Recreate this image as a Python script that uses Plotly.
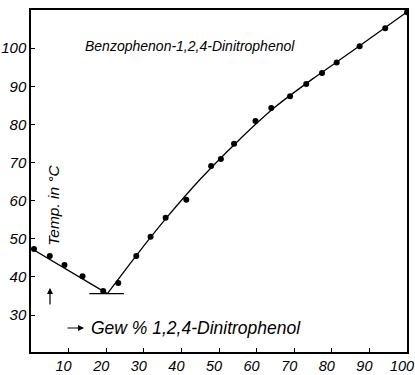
import plotly.graph_objects as go

# measured points (weight % 1,2,4-dinitrophenol, temperature °C)
x_pts = [0.8, 5.0, 8.9, 13.7, 19.2, 23.2, 28.0, 31.8, 35.8, 41.3, 47.9, 50.5, 54.0,
         59.7, 63.9, 68.9, 73.2, 77.4, 81.3, 87.4, 94.2, 100.0]
y_pts = [47.3, 45.5, 43.1, 40.2, 36.3, 38.4, 45.5, 50.5, 55.5, 60.2, 69.1, 70.9, 74.9,
         80.9, 84.3, 87.4, 90.6, 93.5, 96.2, 100.5, 105.2, 109.4]

# liquidus curve (left branch, eutectic, right branch)
x_left = [0.0, 20.3]
y_left = [47.5, 35.6]
x_right = [20.3, 28.0, 35.8, 45.0, 55.0, 65.0, 75.0, 85.0, 100.0]
y_right = [35.6, 45.6, 55.2, 65.6, 75.6, 84.6, 92.0, 98.9, 109.5]
# eutectic horizontal
x_eut = [15.5, 24.7]
y_eut = [35.6, 35.6]

x_ticks = [10, 20, 30, 40, 50, 60, 70, 80, 90, 100]
y_ticks = [30, 40, 50, 60, 70, 80, 90, 100]

FONT = "Liberation Sans"
fig = go.Figure()
line = dict(color="black", width=1.3)
fig.add_trace(go.Scatter(x=x_left, y=y_left, mode="lines", line=line, hoverinfo="skip"))
fig.add_trace(go.Scatter(x=x_right, y=y_right, mode="lines",
                         line=dict(color="black", width=1.3, shape="spline", smoothing=0.6),
                         hoverinfo="skip"))
fig.add_trace(go.Scatter(x=x_eut, y=y_eut, mode="lines", line=line, hoverinfo="skip"))
fig.add_trace(go.Scatter(x=x_pts, y=y_pts, mode="markers",
                         marker=dict(color="black", size=6), hoverinfo="skip"))

fig.add_annotation(x=0.423, y=0.925, xref="paper", yref="paper", showarrow=False,
                   text="Benzophenon-1,2,4-Dinitrophenol",
                   font=dict(family=FONT, size=14, color="black", style="italic"))
fig.add_annotation(x=6.1, y=58.9, showarrow=False, textangle=-90,
                   text="Temp. in °C",
                   font=dict(family=FONT, size=15.5, color="black", style="italic"))
# small arrows
fig.add_annotation(x=5.05, y=37.1, ax=0, ay=18, showarrow=True, text="",
                   arrowhead=2, arrowsize=1, arrowwidth=1.2, arrowcolor="black")
fig.add_annotation(x=14.1, y=26.6, ax=-18, ay=0, showarrow=True, text="",
                   arrowhead=2, arrowsize=1, arrowwidth=1.2, arrowcolor="black")
fig.add_annotation(x=15.4, y=26.6, xanchor="left", showarrow=False,
                   text="Gew % 1,2,4-Dinitrophenol",
                   font=dict(family=FONT, size=17.5, color="black", style="italic"))

axis_common = dict(showline=True, mirror=True, linecolor="black", linewidth=1.5,
                   ticks="inside", ticklen=4, tickcolor="black", showgrid=False,
                   zeroline=False, automargin=False)
fig.update_xaxes(range=[0, 100], tickvals=x_ticks, ticklabelshift=-5,
                 ticklabeloverflow="allow",
                 tickfont=dict(family=FONT, size=14.5, color="black", style="italic"),
                 **axis_common)
fig.update_yaxes(range=[20.3, 110.0], tickvals=y_ticks,
                 tickfont=dict(family=FONT, size=15, color="black", style="italic"),
                 **axis_common)

fig.update_layout(width=415, height=375, margin=dict(l=31, r=8, t=10, b=23),
                  plot_bgcolor="white", paper_bgcolor="white", showlegend=False)
fig.write_html("out.html")
